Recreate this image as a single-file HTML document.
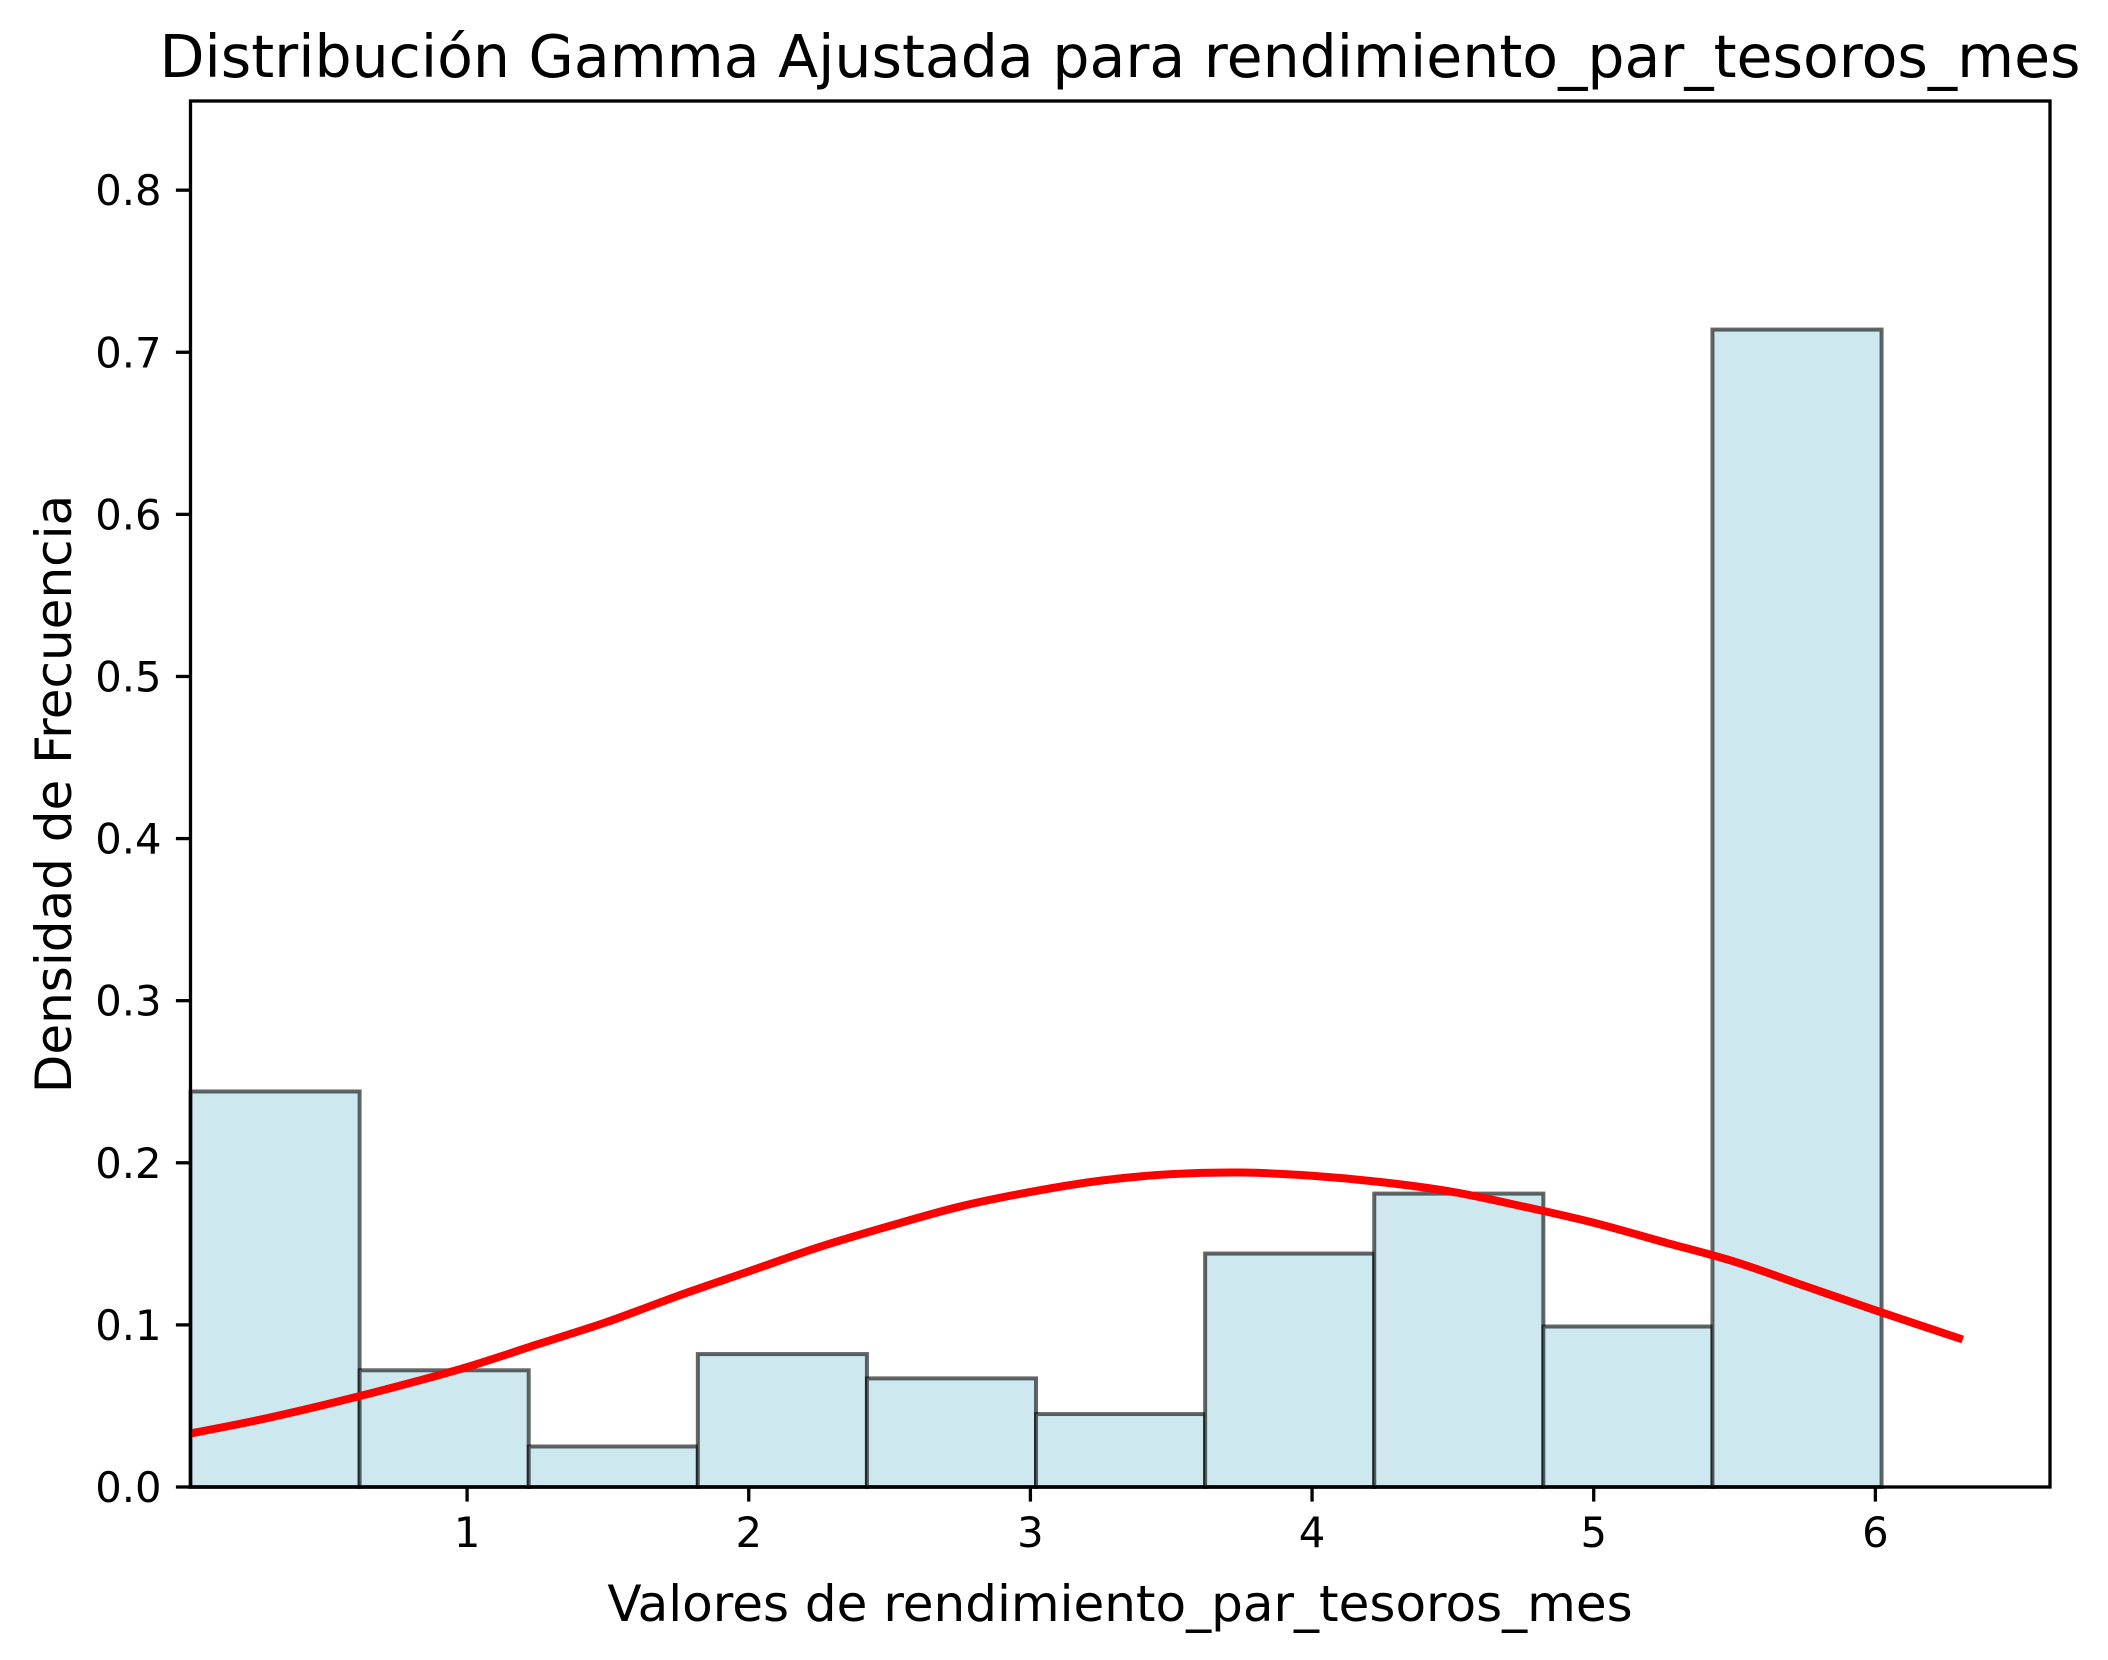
<!DOCTYPE html>
<html><head><meta charset="utf-8"><style>
html,body{margin:0;padding:0;background:#fff;}
svg text{font-family:"DejaVu Sans","Liberation Sans",sans-serif;fill:#000;}
</style></head><body>
<svg id="chart" width="2108" height="1655" viewBox="0 0 2108 1655" xmlns="http://www.w3.org/2000/svg">
<rect x="0" y="0" width="2108" height="1655" fill="#fff"/>
<g id="bars"></g>
<path id="curve" fill="none" stroke="#ff0000" stroke-width="8" stroke-linejoin="round"/>
<g id="axes"></g>
<text x="1120" y="77" font-size="58.5" text-anchor="middle">Distribución Gamma Ajustada para rendimiento_par_tesoros_mes</text>
<text x="1120" y="1621" font-size="50" text-anchor="middle">Valores de rendimiento_par_tesoros_mes</text>
<text x="0" y="0" font-size="50" text-anchor="middle" transform="translate(54,794) rotate(-90)" dy="17">Densidad de Frecuencia</text>
</svg>
<script>
const binStart = 0.018;
const binWidth = 0.6004;
const binHeights = [0.244, 0.072, 0.025, 0.082, 0.067, 0.045, 0.144, 0.181, 0.099, 0.714];
const curveX = [0.018, 0.25, 0.5, 0.75, 1.0, 1.25, 1.5, 1.75, 2.0, 2.25, 2.5, 2.75, 3.0, 3.25, 3.5, 3.75, 4.0, 4.25, 4.5, 4.75, 5.0, 5.25, 5.5, 5.75, 6.0, 6.31];
const curveY = [0.033, 0.041, 0.051, 0.062, 0.074, 0.088, 0.102, 0.118, 0.133, 0.148, 0.161, 0.173, 0.182, 0.189, 0.193, 0.194, 0.192, 0.188, 0.182, 0.173, 0.163, 0.151, 0.139, 0.124, 0.109, 0.091];
const xTicks = [1, 2, 3, 4, 5, 6];
const yTicks = [0.0, 0.1, 0.2, 0.3, 0.4, 0.5, 0.6, 0.7, 0.8];
const xMin = 0.018, xMax = 6.62, yMin = 0, yMax = 0.855;

const L = 190.5, R = 2050, T = 101, B = 1487;
const NS = 'http://www.w3.org/2000/svg';
function sx(v){ return L + (v - xMin) / (xMax - xMin) * (R - L); }
function sy(v){ return B - (v - yMin) / (yMax - yMin) * (B - T); }
function mk(tag, attrs, parent){
  const e = document.createElementNS(NS, tag);
  for (const k in attrs) e.setAttribute(k, attrs[k]);
  parent.appendChild(e);
  return e;
}
const bars = document.getElementById('bars');
binHeights.forEach((h, i) => {
  const x0 = sx(binStart + i * binWidth), x1 = sx(binStart + (i + 1) * binWidth);
  const r = mk('rect', {x: x0, y: sy(h), width: x1 - x0, height: sy(0) - sy(h), fill: '#cee8f0', stroke: 'rgba(0,0,0,0.6)', 'stroke-width': 4}, bars);
  
  
});
const pts = curveX.map((x, i) => [sx(x), sy(curveY[i])]);
let d = 'M' + pts[0][0] + ',' + pts[0][1];
for (let i = 0; i < pts.length - 1; i++) {
  const p0 = pts[Math.max(0, i - 1)], p1 = pts[i], p2 = pts[i + 1], p3 = pts[Math.min(pts.length - 1, i + 2)];
  const c1 = [p1[0] + (p2[0] - p0[0]) / 6, p1[1] + (p2[1] - p0[1]) / 6];
  const c2 = [p2[0] - (p3[0] - p1[0]) / 6, p2[1] - (p3[1] - p1[1]) / 6];
  d += ' C' + c1 + ' ' + c2 + ' ' + p2;
}
document.getElementById('curve').setAttribute('d', d);

const axes = document.getElementById('axes');
const frame = mk('rect', {x: L, y: T, width: R - L, height: B - T, fill: 'none', stroke: '#000', 'stroke-width': 3.3}, axes);


xTicks.forEach(v => {
  const x = sx(v);
  const t = mk('line', {x1: x, x2: x, y1: B, y2: B + 14.6, stroke: '#000', 'stroke-width': 3.3}, axes);
  
  
  const lb = mk('text', {x: x, y: B + 60, 'font-size': 41.7, 'text-anchor': 'middle'}, axes);
  lb.textContent = String(v);
  
  
});
yTicks.forEach(v => {
  const y = sy(v);
  const t = mk('line', {x1: L - 14.6, x2: L, y1: y, y2: y, stroke: '#000', 'stroke-width': 3.3}, axes);
  
  
  const lb = mk('text', {x: L - 29, y: y + 15, 'font-size': 41.7, 'text-anchor': 'end'}, axes);
  lb.textContent = v.toFixed(1);
  
  
});
</script>
</body></html>
